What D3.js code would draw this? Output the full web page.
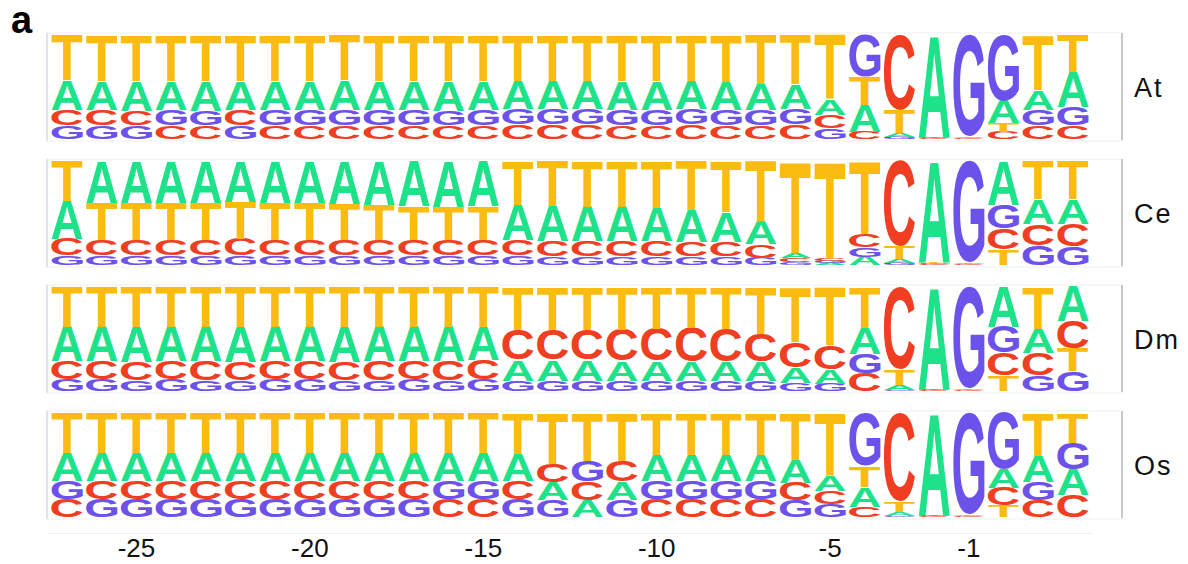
<!DOCTYPE html>
<html>
<head>
<meta charset="utf-8">
<script src="https://cdn.jsdelivr.net/npm/d3@7"></script>
<style>
  body { margin: 0; background: #fff; }
  svg { display: block; }
</style>
</head>
<body>
<div id="chart"></div>
<script>
// positions relative to the 3' splice site, 27 intron bases + 3 exon bases
const positions = [-27, -26, -25, -24, -23, -22, -21, -20, -19, -18, -17, -16, -15, -14,
  -13, -12, -11, -10, -9, -8, -7, -6, -5, -4, -3, -2, -1, 1, 2, 3];
const bases = ['A', 'C', 'G', 'T'];
const species = ['At', 'Ce', 'Dm', 'Os'];
const tickValues = [-25, -20, -15, -10, -5, -1];

// base frequencies per position, columns [A, C, G, T]
const At = [
  [.29, .15, .13, .43], [.28, .15, .13, .44], [.29, .14, .13, .44], [.28, .13, .15, .44],
  [.29, .13, .14, .44], [.28, .15, .13, .44], [.28, .13, .15, .44], [.28, .13, .15, .44],
  [.29, .13, .15, .43], [.28, .13, .15, .44], [.28, .13, .15, .44], [.29, .13, .14, .44],
  [.28, .13, .15, .44], [.27, .14, .15, .44], [.27, .14, .15, .44], [.27, .14, .15, .44],
  [.28, .13, .15, .44], [.28, .13, .15, .44], [.27, .14, .15, .44], [.27, .13, .15, .45],
  [.25, .13, .15, .47], [.24, .14, .15, .47], [.15, .13, .10, .62], [.26, .07, .40, .27],
  [.04, .72, .02, .22], [.98, .005, .01, .005], [.01, .005, .98, .005], [.22, .07, .63, .08],
  [.19, .13, .15, .53], [.33, .13, .18, .36]
];
const Ce = [
  [.37, .16, .09, .38], [.40, .15, .09, .36], [.40, .15, .09, .36], [.40, .15, .09, .36],
  [.40, .15, .09, .36], [.39, .16, .09, .36], [.40, .15, .09, .36], [.40, .15, .09, .36],
  [.41, .15, .09, .35], [.42, .15, .09, .34], [.43, .15, .09, .33], [.44, .15, .09, .32],
  [.43, .15, .09, .33], [.34, .15, .09, .42], [.34, .15, .08, .43], [.33, .15, .08, .44],
  [.33, .15, .08, .44], [.32, .15, .08, .45], [.31, .14, .08, .47], [.29, .14, .08, .49],
  [.22, .13, .07, .58], [.05, .04, .03, .88], [.02, .03, .02, .93], [.08, .13, .09, .70],
  [.04, .82, .02, .12], [.97, .01, .01, .01], [.01, .005, .98, .005], [.42, .20, .23, .15],
  [.24, .20, .19, .37], [.24, .21, .18, .37]
];
const Dm = [
  [.33, .18, .11, .38], [.33, .18, .11, .38], [.34, .18, .10, .38], [.33, .18, .11, .38],
  [.33, .19, .10, .38], [.34, .18, .10, .38], [.33, .18, .11, .38], [.33, .18, .11, .38],
  [.34, .18, .10, .38], [.33, .19, .10, .38], [.33, .18, .11, .38], [.33, .19, .10, .38],
  [.32, .19, .11, .38], [.20, .29, .10, .41], [.20, .29, .10, .41], [.20, .29, .10, .41],
  [.19, .30, .10, .41], [.19, .31, .10, .40], [.18, .33, .10, .39], [.18, .32, .10, .40],
  [.18, .27, .10, .45], [.15, .24, .08, .53], [.14, .23, .07, .56], [.25, .17, .19, .39],
  [.05, .79, .01, .15], [.98, .005, .01, .005], [.01, .005, .98, .005], [.38, .22, .25, .15],
  [.23, .22, .15, .40], [.33, .26, .19, .22]
];
const Os = [
  [.27, .17, .18, .38], [.27, .18, .17, .38], [.27, .18, .17, .38], [.27, .18, .17, .38],
  [.27, .18, .17, .38], [.27, .18, .17, .38], [.27, .18, .17, .38], [.27, .18, .17, .38],
  [.27, .18, .17, .38], [.27, .18, .17, .38], [.27, .18, .17, .38], [.27, .17, .18, .38],
  [.27, .17, .18, .38], [.26, .18, .17, .39], [.17, .18, .16, .49], [.165, .175, .20, .46],
  [.175, .20, .165, .46], [.25, .17, .18, .40], [.25, .17, .18, .40], [.25, .17, .18, .40],
  [.25, .17, .18, .40], [.22, .17, .16, .45], [.15, .13, .12, .60], [.19, .10, .51, .20],
  [.04, .85, .01, .10], [.98, .005, .01, .005], [.01, .005, .98, .005], [.18, .17, .54, .11],
  [.25, .165, .175, .41], [.25, .21, .255, .285]
];
const logos = {At: At, Ce: Ce, Dm: Dm, Os: Os};

const colors = {A: '#1ee28a', C: '#ef3e22', G: '#6c52ea', T: '#fbbb10'};

let width = 1188, height = 564;
let panelTop = 35, panelStep = 126, panelH = 104;
let plotLeft = 47, plotRight = 1122;

let svg = d3.select('#chart').append('svg').attr('width', width).attr('height', height);

let x = d3.scaleBand().domain(positions).range([48, 1092]).padding(0.1);

// ink bounds of each glyph, used to stretch letters to their box
let logoFont = "bold 100px 'Liberation Sans', Arial, sans-serif";
let ctx = document.createElement('canvas').getContext('2d');
ctx.font = logoFont;
let glyph = {};
bases.forEach(b => {
  let m = ctx.measureText(b);
  glyph[b] = {
    left: m.actualBoundingBoxLeft,
    w: m.actualBoundingBoxLeft + m.actualBoundingBoxRight,
    asc: m.actualBoundingBoxAscent,
    desc: m.actualBoundingBoxDescent
  };
});

species.forEach((sp, k) => {
  let top = panelTop + k * panelStep;
  let y = d3.scaleLinear().domain([0, 1]).range([top + panelH, top]);
  let panel = svg.append('g').attr('class', 'panel');

  panel.append('rect')
    .attr('x', plotLeft).attr('y', top - 2)
    .attr('width', plotRight - plotLeft).attr('height', panelH + 4)
    .attr('fill', 'none').attr('stroke', '#f0f0f0');
  panel.append('line')
    .attr('x1', plotLeft).attr('x2', plotLeft).attr('y1', top - 2).attr('y2', top + panelH + 2)
    .attr('stroke', '#cfd0dc').attr('stroke-width', 1);
  panel.append('line')
    .attr('x1', plotRight).attr('x2', plotRight).attr('y1', top - 2).attr('y2', top + panelH + 1)
    .attr('stroke', '#9a9a9a').attr('stroke-width', 1);

  let cols = panel.selectAll('.col').data(logos[sp]).enter().append('g')
    .attr('class', 'col');

  cols.each(function(row, i) {
    let total = d3.sum(row);
    let stack = bases.map((b, j) => ({base: b, v: row[j] / total}))
      .sort((a, b) => a.v - b.v);
    let acc = 0;
    let g = d3.select(this);
    stack.forEach(s => {
      let y0 = y(acc), y1 = y(acc + s.v);
      acc += s.v;
      let h = y0 - y1;
      if (h < 0.3) return;
      let gl = glyph[s.base];
      g.append('text')
        .attr('transform', 'translate(' + [x(positions[i]), y0] + ') scale(' +
          (x.bandwidth() / gl.w) + ',' + (h / (gl.asc + gl.desc)) + ')')
        .attr('x', gl.left)
        .attr('y', -gl.desc)
        .style('font', logoFont)
        .attr('fill', colors[s.base])
        .text(s.base);
    });
  });

  svg.append('text')
    .attr('x', 1134).attr('y', top + panelH / 2 + 1)
    .attr('dominant-baseline', 'central')
    .style('font-family', "'Liberation Sans', Arial, sans-serif")
    .style('font-size', '27px')
    .style('letter-spacing', '2px')
    .attr('fill', '#111')
    .text(sp);
});

let xAxis = d3.axisBottom(x).tickValues(tickValues).tickSize(0).tickPadding(6);
let axisG = svg.append('g').attr('class', 'xAxis')
  .attr('transform', 'translate(0,533)')
  .call(xAxis);
axisG.select('.domain').attr('stroke', '#f0f0f0');
axisG.selectAll('text')
  .style('font-family', "'Liberation Sans', Arial, sans-serif")
  .style('font-size', '26px')
  .attr('fill', '#111');

svg.append('text')
  .attr('x', 11).attr('y', 33)
  .style('font-family', "'Liberation Sans', Arial, sans-serif")
  .style('font-weight', 'bold')
  .style('font-size', '38px')
  .attr('fill', '#000')
  .text('a');
</script>
</body>
</html>
